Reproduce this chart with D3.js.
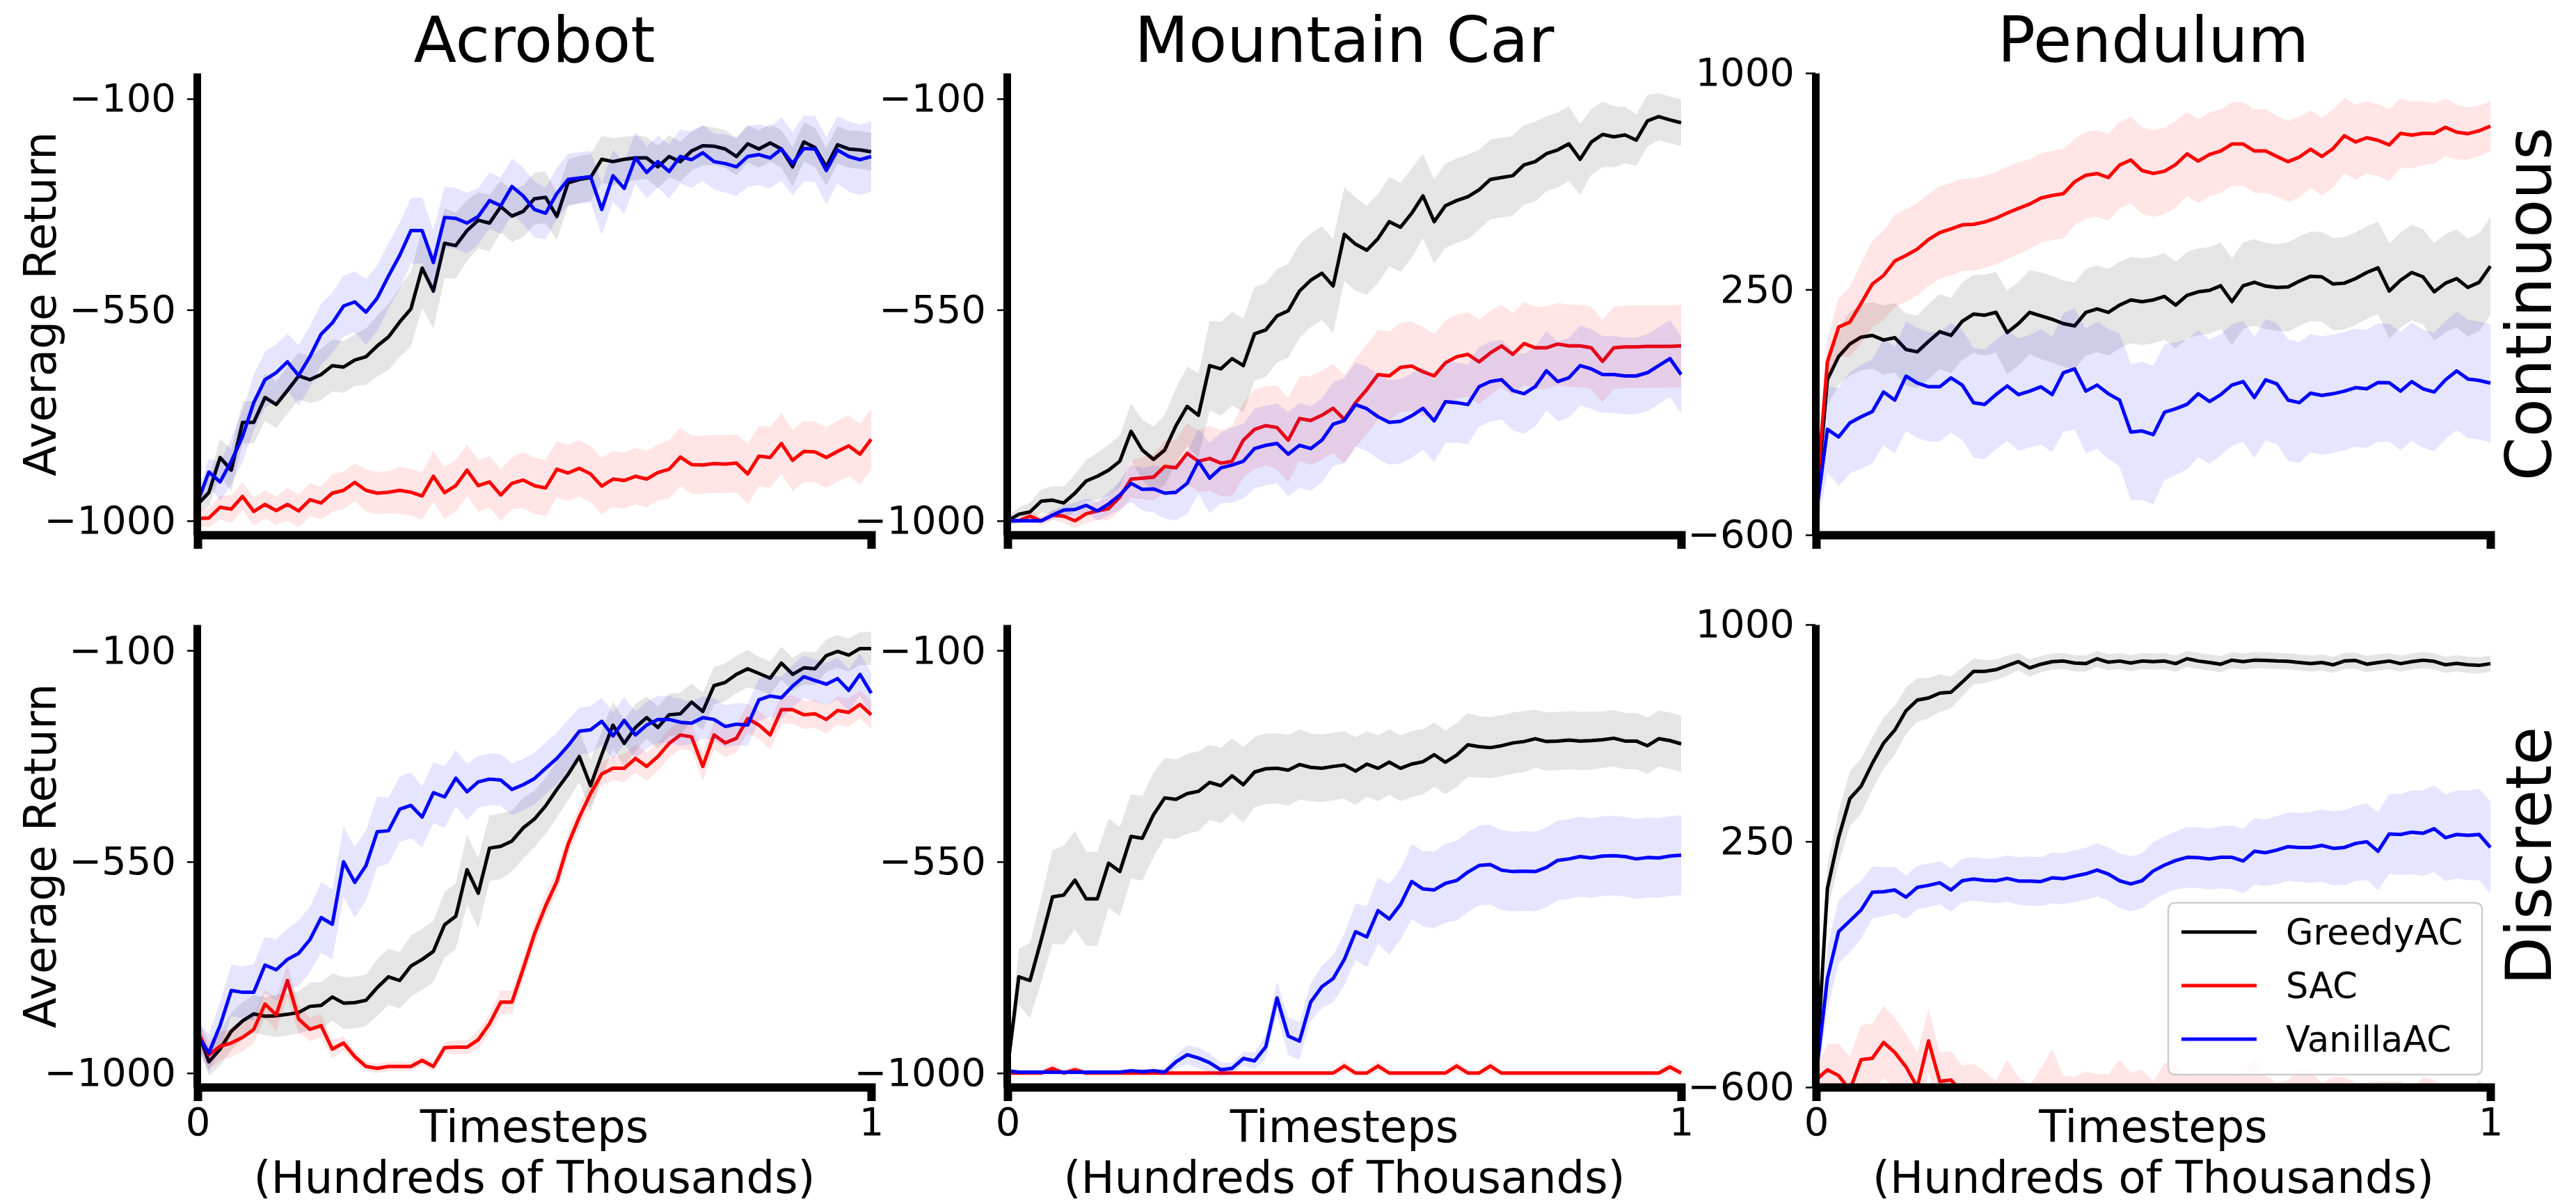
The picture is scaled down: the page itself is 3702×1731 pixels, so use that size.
<!DOCTYPE html>
<html>
<head>
<meta charset="utf-8">
<script src="https://cdn.jsdelivr.net/npm/d3@7"></script>
<style>
  body { margin: 0; background: #fff; }
  text { font-family: "DejaVu Sans", sans-serif; }
</style>
</head>
<body>
<svg id="chart" width="3702" height="1731"></svg>
<script>
let width = 3702, height = 1731;

// x grid: 0 .. 1 (hundreds of thousands of steps), 61 evaluation points
let timesteps = d3.range(61).map(i => i / 60);

let envNames = ["Acrobot", "Mountain Car", "Pendulum"];
let rowNames = ["Continuous", "Discrete"];
let algoNames = ["GreedyAC", "SAC", "VanillaAC"];
let algoColors = ["black", "red", "blue"];
let returnTicks = [-1000, -550, -100];
let pendulumTicks = [-600, 250, 1000];
let xTicks = [0, 1];

// ---- Acrobot, continuous
let acroContGreedy = [-965,-940,-865,-892,-790,-790,-737,-752,-722,-691, -699,-688,-669,-672,-657,-650,-627,-608,-576,-548, -461,-510,-408,-413,-381,-359,-365,-330,-350,-340, -313,-310,-351,-279,-272,-268,-229,-234,-229,-226, -226,-245,-223,-234,-211,-200,-201,-207,-223,-196, -207,-194,-207,-245,-192,-204,-245,-198,-207,-209, -213];
let acroContSAC = [-995,-994,-971,-975,-948,-980,-965,-978,-965,-979, -955,-962,-941,-935,-918,-935,-941,-939,-935,-939, -947,-905,-940,-925,-892,-925,-917,-945,-920,-913, -925,-930,-890,-898,-888,-900,-926,-911,-914,-905, -911,-897,-890,-864,-880,-881,-878,-879,-877,-900, -862,-865,-835,-871,-852,-853,-865,-852,-840,-858, -826];
let acroContVanilla = [-960,-896,-917,-873,-820,-748,-699,-684,-661,-690, -650,-602,-578,-542,-533,-555,-525,-478,-434,-381, -381,-449,-353,-355,-365,-351,-317,-328,-287,-307, -336,-344,-302,-272,-269,-266,-336,-264,-291,-226, -257,-234,-255,-223,-230,-215,-234,-238,-245,-223, -219,-226,-207,-238,-206,-207,-253,-209,-223,-230, -223];
let acroContGreedyStd = [20,30,40,45,45,45,50,50,50,50, 50,55,55,55,55,60,65,70,75,80, 85,80,75,70,65,60,60,55,55,55, 55,55,50,50,50,50,50,50,48,48, 45,45,45,42,42,42,40,40,40,40, 40,40,40,42,42,42,40,40,40,40, 40];
let acroContSACStd = [15,20,25,30,30,30,30,30,35,35, 35,35,40,40,40,45,45,45,50,50, 50,55,55,55,55,55,55,55,55,60, 60,60,60,60,60,60,60,60,60,60, 60,60,62,62,62,62,62,62,62,65, 65,65,65,65,65,65,65,65,65,65, 65];
let acroContVanillaStd = [20,30,40,50,55,60,60,60,60,65, 65,65,65,65,65,70,70,70,70,70, 70,70,65,65,65,60,60,60,60,60, 60,55,55,55,55,55,55,55,55,55, 55,55,58,58,60,60,60,62,62,65, 65,65,68,68,70,70,72,72,75,75, 75];

// ---- Mountain Car, continuous
let mcContGreedy = [-1000,-986,-981,-958,-956,-962,-941,-915,-905,-892, -873,-809,-849,-869,-849,-797,-756,-775,-669,-676, -654,-669,-601,-593,-563,-552,-510,-487,-472,-499, -389,-410,-423,-398,-362,-374,-344,-307,-362,-328, -317,-309,-294,-272,-268,-264,-241,-234,-217,-209, -196,-229,-192,-176,-181,-177,-188,-147,-138,-145, -151];
let mcContSAC = [-1000,-1000,-990,-1000,-988,-990,-1000,-985,-979,-974, -949,-911,-909,-907,-884,-887,-856,-873,-867,-877, -873,-828,-805,-797,-801,-828,-782,-786,-775,-760, -784,-748,-720,-688,-691,-673,-670,-682,-691,-663, -650,-645,-661,-642,-627,-645,-622,-631,-631,-623, -627,-627,-631,-660,-631,-629,-629,-628,-628,-628, -627];
let mcContVanilla = [-1000,-1000,-1000,-1000,-988,-977,-976,-967,-979,-964, -945,-920,-933,-932,-941,-939,-920,-873,-909,-887, -881,-873,-846,-839,-835,-858,-839,-846,-828,-794, -786,-752,-761,-778,-790,-788,-776,-760,-787,-746, -748,-752,-714,-703,-699,-722,-729,-714,-680,-703, -695,-669,-676,-688,-688,-691,-691,-684,-669,-654, -688];
let mcContGreedyStd = [10,15,20,25,30,35,40,45,50,55, 55,60,65,70,75,80,85,90,95,100, 100,100,100,100,100,100,100,100,100,100, 100,100,95,95,95,95,95,90,90,90, 90,90,85,85,85,85,85,85,80,80, 80,75,70,70,65,60,55,55,50,50, 50];
let mcContSACStd = [5,5,10,10,10,15,15,20,20,25, 30,40,45,50,55,60,65,65,70,70, 75,80,85,85,90,90,90,95,95,95, 95,95,95,95,95,95,95,95,90,90, 90,90,90,90,88,88,88,88,88,88, 88,88,88,88,88,88,88,88,88,88, 88];
let mcContVanillaStd = [5,5,5,5,10,10,15,15,20,25, 30,40,45,50,55,60,65,70,75,75, 80,80,85,85,85,90,90,90,90,90, 90,90,90,90,90,90,90,88,88,88, 85,85,85,85,85,85,85,85,85,85, 85,85,85,82,82,82,82,82,82,82, 82];

// ---- Pendulum, continuous
let pendContGreedy = [-500,-62,18,61,85,91,75,83,42,34, 70,104,91,140,165,161,171,101,132,171, 159,147,132,124,171,183,171,196,214,208, 214,226,196,230,242,247,263,208,263,275, 262,257,259,279,296,294,269,272,288,309, 325,245,282,309,294,242,272,288,257,275, 331];
let pendContSAC = [-480,-1,120,137,202,269,299,349,368,390, 423,447,460,474,476,484,497,515,531,546, 567,576,582,623,646,652,638,681,699,662, 652,660,683,720,695,718,730,754,754,730, 730,711,693,709,736,711,738,783,761,776, 767,751,791,785,791,791,812,795,790,800, 816];
let pendContVanilla = [-530,-234,-261,-212,-191,-173,-105,-133,-50,-74, -87,-87,-56,-81,-142,-148,-114,-84,-114,-102, -87,-114,-38,-25,-102,-81,-111,-133,-244,-240, -253,-175,-163,-148,-111,-138,-114,-81,-69,-124, -63,-77,-133,-142,-109,-117,-111,-102,-90,-94, -72,-73,-102,-69,-94,-105,-63,-32,-60,-65, -74];
let pendContGreedyStd = [60,90,100,110,115,115,120,120,125,125, 130,130,130,135,135,140,140,145,145,145, 150,150,150,150,150,150,150,150,150,150, 150,150,150,150,150,150,150,150,150,150, 150,150,155,155,155,155,160,160,160,160, 160,165,165,165,165,170,170,170,170,170, 170];
let pendContSACStd = [60,80,100,120,140,150,155,160,160,160, 160,160,160,160,160,160,160,160,160,155, 155,155,155,150,150,150,150,150,150,150, 150,150,150,145,145,145,145,145,145,145, 145,140,140,140,135,135,135,130,130,125, 125,125,120,115,110,105,100,95,90,88, 86];
let pendContVanillaStd = [60,150,170,175,180,180,185,185,190,190, 190,190,190,190,190,190,190,190,195,195, 200,200,205,210,215,220,225,230,235,240, 240,235,230,225,220,215,210,210,210,210, 210,210,210,210,205,205,205,205,205,205, 205,205,205,205,205,205,205,205,205,205, 205];

// ---- Acrobot, discrete
let acroDiscGreedy = [-910,-976,-949,-911,-889,-874,-879,-878,-875,-871, -858,-856,-838,-851,-850,-845,-818,-795,-803,-772, -758,-741,-684,-666,-567,-617,-521,-517,-506,-478, -459,-431,-396,-364,-326,-388,-322,-259,-298,-264, -243,-264,-237,-235,-210,-230,-175,-168,-151,-139, -149,-159,-127,-151,-137,-139,-111,-102,-110,-96, -96];
let acroDiscSAC = [-911,-961,-943,-936,-924,-907,-853,-876,-803,-885, -907,-899,-949,-936,-965,-986,-990,-986,-986,-986, -973,-986,-946,-945,-945,-929,-895,-849,-849,-778, -704,-644,-592,-513,-455,-405,-363,-351,-351,-330, -347,-326,-298,-280,-284,-347,-280,-297,-287,-245, -259,-280,-226,-226,-237,-235,-247,-228,-232,-215, -237];
let acroDiscVanilla = [-920,-957,-899,-824,-828,-828,-770,-780,-758,-745, -716,-669,-683,-550,-594,-558,-486,-484,-438,-430, -455,-403,-412,-372,-401,-380,-374,-376,-396,-386, -373,-351,-330,-303,-272,-269,-251,-282,-249,-280, -259,-247,-247,-253,-255,-243,-247,-262,-257,-259, -205,-197,-201,-176,-156,-164,-172,-160,-185,-151, -191];
let acroDiscGreedyStd = [25,30,35,40,40,40,40,45,45,45, 50,50,50,55,55,55,60,60,60,65, 65,65,70,70,75,75,70,70,65,65, 60,60,60,55,55,55,50,50,50,50, 45,45,45,45,40,40,40,40,40,40, 35,35,35,35,35,35,35,35,35,35, 35];
let acroDiscSACStd = [30,30,30,30,30,30,30,35,35,30, 25,25,20,15,12,10,10,10,10,10, 10,10,12,15,15,20,20,25,25,25, 25,25,25,25,25,25,25,25,30,30, 30,30,30,30,30,30,30,30,30,30, 30,30,30,30,30,30,30,30,30,30, 30];
let acroDiscVanillaStd = [30,40,50,55,55,60,60,65,65,70, 70,75,75,75,75,75,75,70,70,70, 65,65,65,60,60,55,55,55,55,55, 55,55,55,55,50,50,50,50,50,50, 50,50,50,50,45,45,45,45,45,45, 45,45,45,45,45,45,45,45,45,45, 45];

// ---- Mountain Car, discrete
let mcDiscGreedy = [-990,-795,-803,-716,-625,-621,-589,-629,-629,-553, -571,-496,-500,-450,-414,-417,-405,-400,-381,-388, -367,-386,-359,-352,-351,-355,-343,-349,-351,-347, -344,-357,-342,-351,-338,-351,-342,-337,-322,-338, -323,-301,-305,-307,-303,-297,-294,-288,-294,-293, -291,-293,-292,-290,-287,-293,-293,-303,-288,-292, -299];
let mcDiscSAC = [-1000,-1000,-1000,-1000,-990,-1000,-993,-1000,-1000,-1000, -1000,-1000,-1000,-1000,-1000,-1000,-1000,-1000,-1000,-1000, -1000,-1000,-1000,-1000,-1000,-1000,-1000,-1000,-1000,-1000, -985,-1000,-1000,-985,-1000,-1000,-1000,-1000,-1000,-1000, -985,-1000,-1000,-985,-1000,-1000,-1000,-1000,-1000,-1000, -1000,-1000,-1000,-1000,-1000,-1000,-1000,-1000,-1000,-987, -1000];
let mcDiscVanilla = [-995,-998,-998,-998,-998,-998,-998,-998,-998,-998, -998,-995,-997,-995,-998,-976,-961,-968,-978,-993, -990,-969,-974,-944,-840,-921,-932,-849,-816,-799, -758,-699,-710,-654,-672,-641,-592,-608,-610,-596, -590,-572,-558,-556,-568,-571,-570,-571,-562,-547, -544,-539,-542,-538,-537,-539,-544,-541,-542,-538, -536];
let mcDiscGreedyStd = [10,60,80,90,100,105,105,100,100,95, 95,90,90,90,85,85,85,85,80,80, 80,80,75,75,75,75,75,72,72,72, 72,72,70,70,70,70,70,70,68,68, 68,68,65,65,65,65,65,62,62,62, 62,62,62,60,60,60,60,60,60,60, 60];
let mcDiscSACStd = [5,5,5,5,12,5,10,5,5,5, 5,5,5,5,5,5,5,5,5,5, 5,5,5,5,5,5,5,5,5,5, 12,5,5,12,5,5,5,5,5,5, 12,5,5,12,5,5,5,5,5,5, 5,5,5,5,5,5,5,5,5,12, 5];
let mcDiscVanillaStd = [5,5,5,5,5,5,5,5,5,5, 5,5,5,5,8,15,20,22,20,15, 12,15,18,25,35,40,40,40,45,50, 55,60,65,70,75,75,80,80,82,84, 85,85,85,85,85,85,85,85,85,85, 85,85,85,85,85,85,85,85,85,85, 85];

// ---- Pendulum, discrete (SAC mostly sits below the -600 floor)
let pendDiscGreedy = [-560,87,263,398,441,520,590,635,702,739, 746,763,766,801,838,838,844,858,872,850, 863,872,874,867,865,882,870,874,867,874, 872,874,865,882,874,869,863,877,872,877, 876,874,873,869,865,869,861,874,876,863, 869,874,865,872,877,873,861,866,861,859, 865];
let pendDiscSAC = [-575,-540,-560,-610,-505,-500,-445,-480,-530,-600, -440,-580,-575,-620,-640,-655,-675,-645,-665,-685, -655,-598,-655,-675,-695,-655,-675,-645,-640,-655, -685,-675,-645,-655,-675,-665,-685,-655,-675,-645, -655,-695,-675,-655,-685,-675,-695,-675,-685,-705, -675,-695,-685,-705,-695,-675,-705,-695,-715,-695, -705];
let pendDiscVanilla = [-560,-224,-62,-25,13,74,76,82,57,91, 98,107,82,114,120,115,114,122,113,113, 111,124,121,130,138,151,137,114,103,114, 148,168,184,195,194,189,195,195,182,216, 211,220,232,229,229,236,226,229,243,249, 216,276,274,282,278,294,263,274,271,274, 229];
let pendDiscGreedyStd = [40,80,90,95,95,90,88,85,80,75, 70,65,55,50,45,40,35,35,30,30, 28,28,28,28,28,28,28,28,28,28, 28,28,28,28,28,28,28,28,28,28, 28,28,28,28,28,28,28,28,28,28, 28,28,28,28,28,28,28,28,28,28, 28];
let pendDiscSACStd = [40,90,110,115,120,120,125,120,115,120, 110,100,100,95,120,110,95,140,100,90, 120,130,95,110,150,100,120,140,90,115, 105,160,120,95,130,110,140,100,120,150, 95,110,100,125,140,90,130,110,100,120, 95,115,105,90,130,100,95,110,100,120, 90];
let pendDiscVanillaStd = [40,110,110,108,100,90,85,80,75,75, 75,75,75,75,75,75,78,80,82,85, 85,88,88,90,90,92,92,95,95,95, 100,100,100,105,105,105,108,110,112,115, 115,118,118,120,122,125,128,130,130,132, 135,138,140,145,148,150,150,152,155,158, 160];

// layout in pixels
let colX = [[284, 1252], [1448, 2416], [2610, 3579]];
let rowY = [[105, 769], [898, 1563]];
let returnDomain = [-1030, -45], pendulumDomain = [-600, 1000];

let panels = [
    {row: 0, col: 0, domain: returnDomain, ticks: returnTicks,
     means: [acroContGreedy, acroContSAC, acroContVanilla], stds: [acroContGreedyStd, acroContSACStd, acroContVanillaStd]},
    {row: 0, col: 1, domain: returnDomain, ticks: returnTicks,
     means: [mcContGreedy, mcContSAC, mcContVanilla], stds: [mcContGreedyStd, mcContSACStd, mcContVanillaStd]},
    {row: 0, col: 2, domain: pendulumDomain, ticks: pendulumTicks,
     means: [pendContGreedy, pendContSAC, pendContVanilla], stds: [pendContGreedyStd, pendContSACStd, pendContVanillaStd]},
    {row: 1, col: 0, domain: returnDomain, ticks: returnTicks,
     means: [acroDiscGreedy, acroDiscSAC, acroDiscVanilla], stds: [acroDiscGreedyStd, acroDiscSACStd, acroDiscVanillaStd]},
    {row: 1, col: 1, domain: returnDomain, ticks: returnTicks,
     means: [mcDiscGreedy, mcDiscSAC, mcDiscVanilla], stds: [mcDiscGreedyStd, mcDiscSACStd, mcDiscVanillaStd]},
    {row: 1, col: 2, domain: pendulumDomain, ticks: pendulumTicks,
     means: [pendDiscGreedy, pendDiscSAC, pendDiscVanilla], stds: [pendDiscGreedyStd, pendDiscSACStd, pendDiscVanillaStd]}
];

let svg = d3.select("#chart");
svg.append("rect").attr("width", width).attr("height", height).attr("fill", "white");
let defs = svg.append("defs");

panels.forEach(function(p, k) {
    let x = d3.scaleLinear().domain([0, 1]).range(colX[p.col]);
    let y = d3.scaleLinear().domain(p.domain).range([rowY[p.row][1], rowY[p.row][0]]);
    let g = svg.append("g").attr("class", "panel");

    defs.append("clipPath").attr("id", "clip" + k)
        .append("rect")
        .attr("x", x(0)).attr("y", y(p.domain[1]))
        .attr("width", x(1) - x(0) + 3).attr("height", y(p.domain[0]) - y(p.domain[1]));

    let plot = g.append("g").attr("clip-path", "url(#clip" + k + ")");

    p.means.forEach(function(mean, s) {
        let std = p.stds[s];
        let band = d3.area()
            .x((d, i) => x(timesteps[i]))
            .y0((d, i) => y(d - std[i]))
            .y1((d, i) => y(d + std[i]));
        let line = d3.line()
            .x((d, i) => x(timesteps[i]))
            .y(d => y(d));
        plot.append("path").datum(mean)
            .attr("d", band)
            .style("fill", algoColors[s])
            .style("fill-opacity", 0.1);
        plot.append("path").datum(mean)
            .attr("d", line)
            .style("fill", "none")
            .style("stroke", algoColors[s])
            .style("stroke-width", 5)
            .style("stroke-linejoin", "round");
    });

    // left spine + y ticks
    let yAxis = g.append("g")
        .attr("transform", "translate(" + (x(0) - 1) + ",0)")
        .call(d3.axisLeft(y).tickValues(p.ticks).tickSize(14).tickSizeOuter(0).tickPadding(16).tickFormat(d3.format("d")));
    yAxis.select(".domain").style("stroke-width", 11).style("stroke-linecap", "butt");
    yAxis.selectAll(".tick line").style("stroke-width", 2.5);
    yAxis.selectAll(".tick text").style("font-size", "56px").style("font-family", "DejaVu Sans");

    // bottom spine (+ x ticks on the lower row)
    let xAxisGen = d3.axisBottom(x).tickSizeOuter(0).tickSize(14).tickPadding(15).tickFormat(d3.format("d"));
    xAxisGen.tickValues(p.row === 1 ? xTicks : []);
    let xAxis = g.append("g")
        .attr("transform", "translate(0," + y(p.domain[0]) + ")")
        .call(xAxisGen);
    xAxis.select(".domain").style("stroke-width", 12).style("stroke-linecap", "square");
    xAxis.selectAll(".tick line").style("stroke-width", 2.5);
    xAxis.selectAll(".tick text").style("font-size", "56px").style("font-family", "DejaVu Sans");

    let cx = (x(0) + x(1)) / 2;
    let cy = (rowY[p.row][0] + rowY[p.row][1]) / 2;

    if (p.row === 0) {
        g.append("text")
            .attr("x", cx).attr("y", 89)
            .attr("text-anchor", "middle")
            .style("font-size", "90px")
            .text(envNames[p.col]);
    } else {
        g.append("text")
            .attr("x", cx).attr("y", 1642)
            .attr("text-anchor", "middle")
            .style("font-size", "64px")
            .text("Timesteps");
        g.append("text")
            .attr("x", cx).attr("y", 1715)
            .attr("text-anchor", "middle")
            .style("font-size", "64px")
            .text("(Hundreds of Thousands)");
    }

    if (p.col === 0) {
        g.append("text")
            .attr("transform", "translate(80," + cy + ") rotate(-90)")
            .attr("text-anchor", "middle")
            .style("font-size", "64px")
            .text("Average Return");
    }

    if (p.col === 2) {
        g.append("text")
            .attr("transform", "translate(3666," + cy + ") rotate(-90)")
            .attr("text-anchor", "middle")
            .style("font-size", "90px")
            .text(rowNames[p.row]);
    }

    // legend lives in the bottom-right panel
    if (p.row === 1 && p.col === 2) {
        let legend = g.append("g").attr("class", "legend");
        legend.append("rect")
            .attr("x", 3116).attr("y", 1298)
            .attr("width", 451).attr("height", 247)
            .attr("rx", 9)
            .style("fill", "white").style("fill-opacity", 0.8)
            .style("stroke", "#cccccc").style("stroke-width", 2.5);
        algoNames.forEach(function(name, s) {
            let ly = 1340 + s * 77;
            legend.append("line")
                .attr("x1", 3135).attr("x2", 3243)
                .attr("y1", ly).attr("y2", ly)
                .style("stroke", algoColors[s]).style("stroke-width", 5);
            legend.append("text")
                .attr("x", 3285).attr("y", ly)
                .attr("dy", "0.35em")
                .style("font-size", "51px")
                .text(name);
        });
    }
});
</script>
</body>
</html>
